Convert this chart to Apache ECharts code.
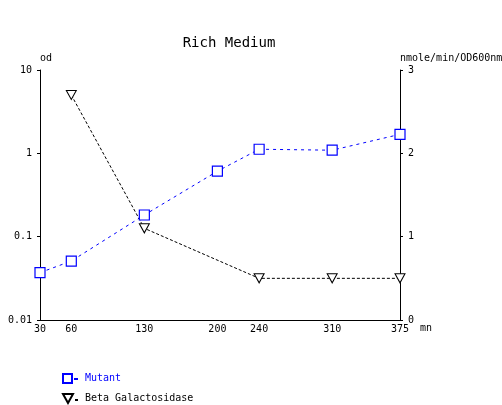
<!DOCTYPE html>
<html>
<head>
<meta charset="utf-8">
<script src="https://cdn.jsdelivr.net/npm/echarts@6/dist/echarts.min.js"></script>
<style>
  html, body { margin: 0; padding: 0; background: #fff; }
  #chart { width: 502px; height: 405px; }
</style>
</head>
<body>
<div id="chart"></div>
<script>
// data
const minutes = [30, 60, 130, 200, 240, 310, 375];
const mutantOd = [0.037, 0.051, 0.182, 0.61, 1.12, 1.09, 1.69];
const betaMinutes = [60, 130, 240, 310, 375];
const betaGal = [2.7, 1.1, 0.5, 0.5, 0.5];
const xTicks = [30, 60, 130, 200, 240, 310, 375];

const font = 'DejaVu Sans Mono';
const chart = echarts.init(document.getElementById('chart'));

const option = {
  animation: false,
  textStyle: { fontFamily: font, fontSize: 10, color: '#000' },
  title: {
    text: 'Rich Medium',
    left: 224,
    textAlign: 'center',
    top: 31,
    textStyle: { fontFamily: font, fontSize: 14, fontWeight: 'normal', color: '#000' }
  },
  grid: { left: 40, right: 102, top: 70, bottom: 85, outerBoundsMode: 'none' },
  legend: {
    orient: 'vertical',
    left: 62,
    top: 373,
    padding: 0,
    itemWidth: 15,
    itemHeight: 9,
    itemGap: 9,
    textStyle: { fontFamily: font, fontSize: 10, padding: [0, 0, 0, 2] },
    data: [
      { name: 'Mutant', icon: 'path://M0,0 H9 V9 H0 Z M11,5 H15', textStyle: { color: '#0000ff' } },
      { name: 'Beta Galactosidase', icon: 'path://M0,0 H10 L5,9 Z M12,6 H15', textStyle: { color: '#000' } }
    ]
  },
  xAxis: {
    type: 'value',
    min: 30,
    max: 375,
    name: 'mn',
    nameGap: 14,
    nameTextStyle: { fontFamily: font, fontSize: 10, verticalAlign: 'top', padding: [3, 0, 0, 0] },
    axisLine: { lineStyle: { color: '#000', width: 1 } },
    axisTick: { show: false },
    splitLine: { show: false },
    axisLabel: {
      customValues: xTicks,
      margin: 4,
      fontFamily: font,
      fontSize: 10,
      color: '#000'
    }
  },
  yAxis: [
    {
      type: 'log',
      logBase: 10,
      min: 0.01,
      max: 10,
      name: 'od',
      nameGap: 7,
      nameTextStyle: { fontFamily: font, fontSize: 10, align: 'left' },
      axisLine: { show: true, lineStyle: { color: '#000', width: 1 } },
      axisTick: { show: true, length: 3, lineStyle: { color: '#000' } },
      splitLine: { show: false },
      minorTick: { show: false },
      axisLabel: {
        margin: 8,
        fontFamily: font,
        fontSize: 10,
        color: '#000',
        formatter: v => String(+v.toPrecision(3))
      }
    },
    {
      type: 'value',
      position: 'right',
      min: 0,
      max: 3,
      interval: 1,
      name: 'nmole/min/OD600nm',
      nameGap: 7,
      nameTextStyle: { fontFamily: font, fontSize: 10, align: 'left' },
      axisLine: { show: true, lineStyle: { color: '#000', width: 1 } },
      axisTick: { show: true, length: 3, lineStyle: { color: '#000' } },
      splitLine: { show: false },
      axisLabel: { margin: 8, fontFamily: font, fontSize: 10, color: '#000' }
    }
  ],
  series: [
    {
      name: 'Mutant',
      type: 'line',
      yAxisIndex: 0,
      data: minutes.map((m, i) => [m, mutantOd[i]]),
      symbol: 'rect',
      symbolSize: 10,
      lineStyle: { color: '#0000ff', width: 1, type: [3, 4] },
      itemStyle: { color: '#fff', borderColor: '#0000ff', borderWidth: 1.2 }
    },
    {
      name: 'Beta Galactosidase',
      type: 'line',
      yAxisIndex: 1,
      data: betaMinutes.map((m, i) => [m, betaGal[i]]),
      symbol: 'path://M0,0 L10,0 L5,10 Z',
      symbolSize: [10, 9],
      lineStyle: { color: '#000', width: 1, type: [3, 2] },
      itemStyle: { color: '#fff', borderColor: '#000', borderWidth: 1 }
    }
  ]
};

chart.setOption(option);
</script>
</body>
</html>
